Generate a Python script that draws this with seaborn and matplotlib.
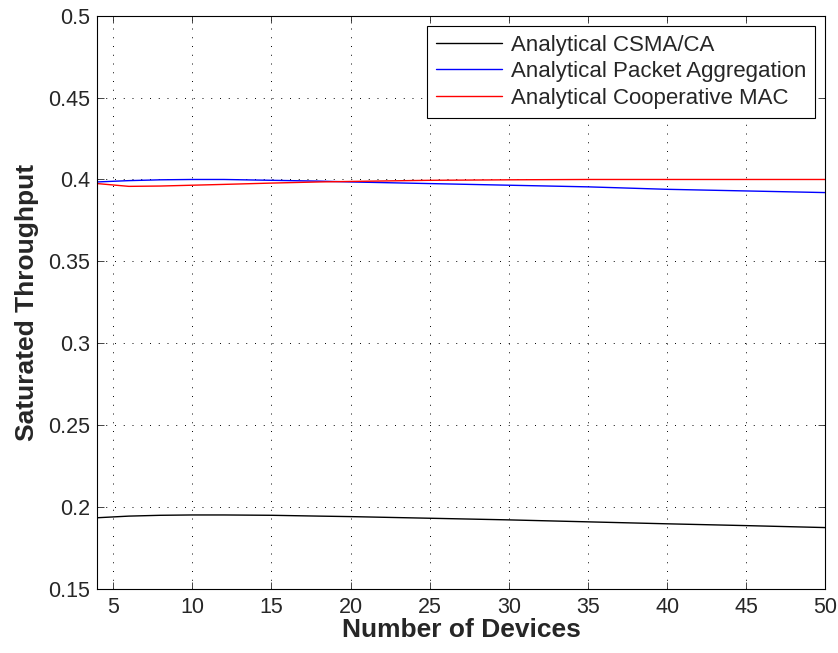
import numpy as np
import pandas as pd
import matplotlib
matplotlib.use("Agg")
import matplotlib.pyplot as plt
import seaborn as sns

# values
devices = [4, 6, 8, 10, 12, 15, 18, 20, 25, 30, 35, 40, 45, 50]
csma = [0.1935, 0.1945, 0.1950, 0.1952, 0.1952, 0.1950, 0.1945, 0.1942,
        0.1932, 0.1922, 0.1910, 0.1898, 0.1887, 0.1875]
aggregation = [0.3985, 0.3993, 0.3998, 0.4000, 0.4000, 0.3995, 0.3990, 0.3985,
               0.3975, 0.3965, 0.3955, 0.3940, 0.3930, 0.3920]
coop_mac = [0.3975, 0.3958, 0.3960, 0.3965, 0.3970, 0.3978, 0.3985, 0.3988,
            0.3995, 0.3998, 0.4000, 0.4000, 0.4000, 0.4000]

labels = ["Analytical CSMA/CA", "Analytical Packet Aggregation", "Analytical Cooperative MAC"]
colors = ["black", "blue", "red"]

df = pd.DataFrame({
    "Devices": devices * 3,
    "Throughput": csma + aggregation + coop_mac,
    "Series": [labels[0]] * len(devices) + [labels[1]] * len(devices) + [labels[2]] * len(devices),
})

sns.set_style("ticks")
plt.rcParams['font.family'] = ['Liberation Sans', 'DejaVu Sans']

fig = plt.figure(figsize=(8.38, 6.53), dpi=100)
ax = fig.add_axes([0.116, 0.098, 0.869, 0.878])

sns.lineplot(data=df, x="Devices", y="Throughput", hue="Series", palette=colors,
             hue_order=labels, linewidth=1.0, ax=ax)

ax.set_xlim(4, 50)
ax.set_ylim(0.15, 0.5)
ax.set_xticks([5, 10, 15, 20, 25, 30, 35, 40, 45, 50])
ax.set_yticks([0.15, 0.2, 0.25, 0.3, 0.35, 0.4, 0.45, 0.5])
ax.set_yticklabels(["0.15", "0.2", "0.25", "0.3", "0.35", "0.4", "0.45", "0.5"])
ax.tick_params(direction="in", labelsize=15.5, length=5, top=True, right=True, width=0.6)
ax.tick_params(axis="x", pad=6)
ax.tick_params(axis="y", pad=5)
ax.grid(True, linestyle=(0, (1, 8)), color="black", linewidth=0.7)
for s in ax.spines.values():
    s.set_linewidth(0.8)
    s.set_color("black")

ax.set_xlabel("Number of Devices", fontsize=19, fontweight="bold", labelpad=0)
ax.set_ylabel("Saturated Throughput", fontsize=19, fontweight="bold", labelpad=7)

leg = ax.legend(loc="upper right", fontsize=16, frameon=True, fancybox=False,
                edgecolor="black", framealpha=1, borderaxespad=0.45,
                handlelength=3.0, handletextpad=0.4, labelspacing=0.25, borderpad=0.4)
leg.get_frame().set_linewidth(0.8)

plt.savefig("out.png", dpi=100)
